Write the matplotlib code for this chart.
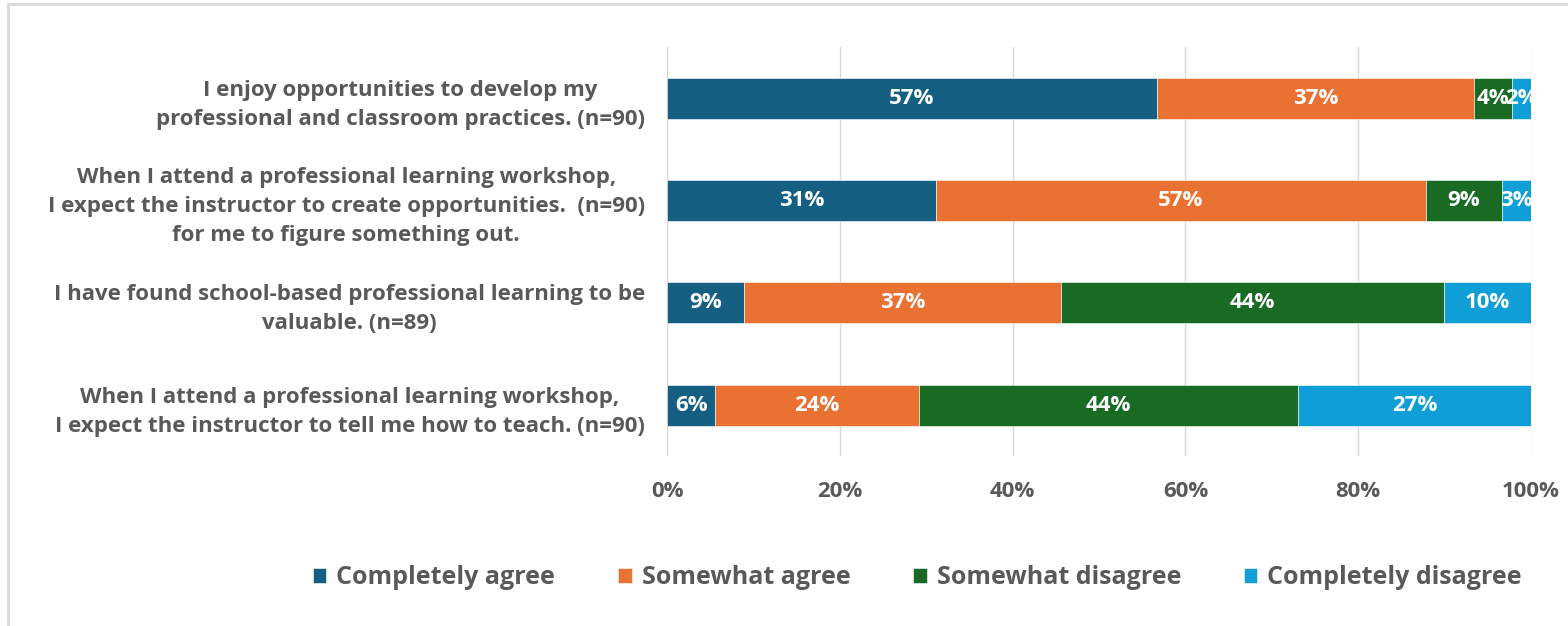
import matplotlib.pyplot as plt
from matplotlib.lines import Line2D
import numpy as np

plt.rcParams['font.family'] = ['Open Sans', 'DejaVu Sans']

questions = [
    'I enjoy opportunities to develop my\nprofessional and classroom practices. (n=90)',
    'When I attend a professional learning workshop,\nI expect the instructor to create opportunities.  (n=90)\nfor me to figure something out.',
    'I have found school-based professional learning to be\nvaluable. (n=89)',
    'When I attend a professional learning workshop,\nI expect the instructor to tell me how to teach. (n=90)',
]
responses = ['Completely agree', 'Somewhat agree', 'Somewhat disagree', 'Completely disagree']

# percent of respondents per answer, one entry per statement
completely_agree = [56.7, 31.1, 8.9, 5.6]
somewhat_agree = [36.7, 56.7, 36.7, 23.6]
somewhat_disagree = [4.4, 8.9, 44.3, 43.8]
completely_disagree = [2.2, 3.3, 10.1, 27.0]

colors = ['#156082', '#E97132', '#196B24', '#0F9ED5']
grey = '#595959'

fig = plt.figure(figsize=(15.68, 6.26), dpi=100)
ax = fig.add_axes([0.4254, 0.2709, 0.5510, 0.6543])

y = np.arange(len(questions))
left = np.zeros(len(questions))
handles = []
for name, vals, c in zip(responses,
                         [completely_agree, somewhat_agree, somewhat_disagree, completely_disagree],
                         colors):
    vals = np.array(vals)
    bars = ax.barh(y, vals, left=left, height=0.40, color=c, label=name,
                   edgecolor='white', linewidth=0.4)
    ax.bar_label(bars, labels=[f'{v:.0f}%' for v in vals], label_type='center',
                 color='white', fontsize=16, fontweight='bold')
    handles.append(bars)
    left += vals

ax.set_xlim(0, 100)
ax.set_ylim(len(questions) - 0.5, -0.5)
ax.set_xticks(np.arange(0, 101, 20))
ax.set_xticklabels([f'{t}%' for t in range(0, 101, 20)], color=grey,
                   fontsize=16, fontweight='bold')
ax.set_yticks(y)
ax.set_yticklabels(questions, color=grey, fontsize=16, fontweight='bold',
                   multialignment='center', linespacing=1.5)
ax.tick_params(axis='y', length=0, pad=16)
ax.tick_params(axis='x', length=0, pad=18)
ax.grid(axis='x', color='#D9D9D9', linewidth=1)
ax.set_axisbelow(True)
for s in ax.spines.values():
    s.set_visible(False)

fig.legend(handles, responses, loc='center', bbox_to_anchor=(0.585, 1 - 578 / 626),
           ncol=4, frameon=False, handlelength=0.55, handleheight=0.55,
           handletextpad=0.4, columnspacing=2.5,
           prop={'size': 18, 'weight': 'bold'}, labelcolor=grey)

# chart frame edges
fig.add_artist(Line2D([8 / 1568, 1], [1 - 4 / 626, 1 - 4 / 626], color='#D9D9D9', lw=2))
fig.add_artist(Line2D([8 / 1568, 8 / 1568], [0, 1 - 4 / 626], color='#D9D9D9', lw=2))

fig.savefig('out.png', dpi=100)
